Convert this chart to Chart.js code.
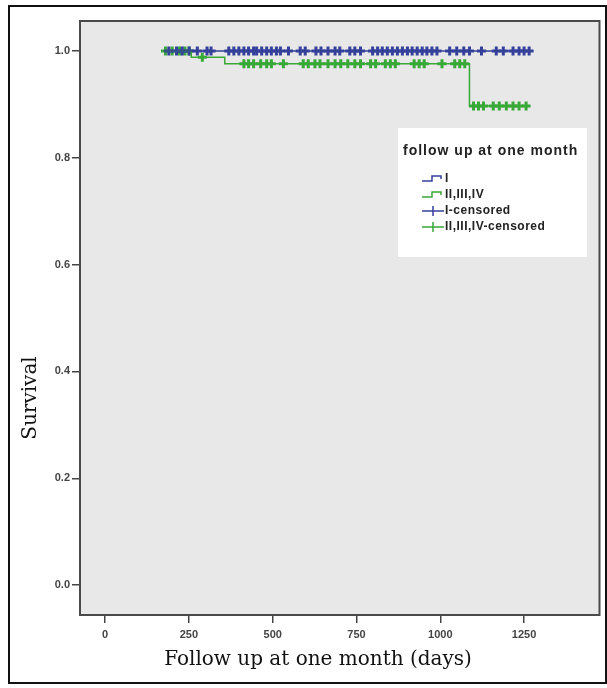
<!DOCTYPE html>
<html>
<head>
<meta charset="utf-8">
<script src="https://cdn.jsdelivr.net/npm/chart.js@4.4.0/dist/chart.umd.min.js"></script>
<style>
html, body { margin: 0; background: #fff; }
</style>
</head>
<body>
<canvas id="km" width="607" height="688"></canvas>
<script>
// Kaplan-Meier step points (days, survival)
const stepTimesI = [175, 1265];
const stepSurvI = [1, 1];
const stepTimesII = [175, 257, 357, 1087, 1256];
const stepSurvII = [1, 0.988, 0.976, 0.897, 0.897];

// censored times
const censorI = [190, 213, 230, 251, 275, 304, 316, 369, 384, 399, 414, 428, 443, 452, 467, 482, 496, 511, 523,
  547, 582, 597, 629, 644, 665, 686, 700, 730, 745, 762, 798, 813, 827, 842, 857, 872, 887, 902, 916, 931,
  946, 960, 975, 990, 1028, 1049, 1070, 1087, 1123, 1167, 1188, 1217, 1235, 1250, 1265];
const censorII = [180, 200, 222, 238, 250, 290, 414, 428, 443, 464, 482, 496, 532, 591, 606, 626, 641, 665, 686,
  703, 724, 745, 762, 792, 807, 836, 851, 866, 922, 937, 952, 1005, 1043, 1058, 1073,
  1099, 1114, 1129, 1158, 1176, 1197, 1217, 1235, 1256];

const xTicks = [0, 250, 500, 750, 1000, 1250];
const yTicks = [0, 0.2, 0.4, 0.6, 0.8, 1.0];
const legendTitle = 'follow up at one month';
const legendLabels = ['I', 'II,III,IV', 'I-censored', 'II,III,IV-censored'];

const blue = '#34409a';
const green = '#38a838';

function survAt(times, surv, t) {
    let s = surv[0];
    for (let i = 0; i < times.length; i++) {
        if (times[i] <= t) s = surv[i];
    }
    return s;
}

function toPoints(times, surv) {
    return times.map((t, i) => ({ x: t, y: surv[i] }));
}

function censorPoints(cens, times, surv) {
    return cens.map(t => ({ x: t, y: survAt(times, surv, t) }));
}

const framePlugin = {
    id: 'frame',
    beforeDraw(chart) {
        const ctx = chart.ctx;
        const a = chart.chartArea;
        ctx.save();
        ctx.fillStyle = '#fff';
        ctx.fillRect(0, 0, chart.width, chart.height);
        ctx.strokeStyle = '#111';
        ctx.lineWidth = 2;
        ctx.strokeRect(9, 6, 597, 677);
        ctx.fillStyle = '#e8e8e8';
        ctx.fillRect(a.left, a.top, a.right - a.left, a.bottom - a.top);
        ctx.restore();
    },
    afterDraw(chart) {
        const ctx = chart.ctx;
        const a = chart.chartArea;
        ctx.save();
        ctx.strokeStyle = '#4a4a4a';
        ctx.lineWidth = 2;
        ctx.strokeRect(a.left, a.top, a.right - a.left, a.bottom - a.top);

        // axis titles
        ctx.fillStyle = '#111';
        ctx.font = '20px "DejaVu Serif"';
        ctx.textAlign = 'center';
        ctx.textBaseline = 'middle';
        ctx.fillText('Follow up at one month (days)', 318, 660);
        ctx.save();
        ctx.translate(31, 398);
        ctx.rotate(-Math.PI / 2);
        ctx.fillText('Survival', 0, 0);
        ctx.restore();

        // legend
        const lx = 398, ly = 128;
        ctx.fillStyle = '#fff';
        ctx.fillRect(lx, ly, 189, 129);
        ctx.fillStyle = '#222';
        ctx.font = 'bold 14px "Liberation Sans"';
        ctx.letterSpacing = '1px';
        ctx.textAlign = 'left';
        ctx.fillText(legendTitle, 403, 151);
        const cols = [blue, green, blue, green];
        ctx.font = 'bold 12px "Liberation Sans"';
        ctx.letterSpacing = '0.5px';
        legendLabels.forEach((lab, i) => {
            const y = 179 + i * 16;
            ctx.strokeStyle = cols[i];
            ctx.lineWidth = 1.5;
            ctx.beginPath();
            if (i < 2) {
                ctx.moveTo(422, y + 2);
                ctx.lineTo(432, y + 2);
                ctx.lineTo(432, y - 3);
                ctx.lineTo(441, y - 3);
                ctx.lineTo(441, y);
            } else {
                ctx.moveTo(422, y);
                ctx.lineTo(444, y);
                ctx.moveTo(433, y - 5);
                ctx.lineTo(433, y + 5);
            }
            ctx.stroke();
            ctx.fillStyle = '#222';
            ctx.fillText(lab, 445, y);
        });
        ctx.restore();
    }
};

const tickFont = { family: 'Liberation Sans', size: 11, weight: 'bold' };

new Chart(document.getElementById('km'), {
    type: 'scatter',
    data: {
        datasets: [
            {
                label: legendLabels[0],
                data: toPoints(stepTimesI, stepSurvI),
                showLine: true,
                stepped: true,
                borderColor: blue,
                borderWidth: 1.5,
                pointRadius: 0
            },
            {
                label: legendLabels[1],
                data: toPoints(stepTimesII, stepSurvII),
                showLine: true,
                stepped: true,
                borderColor: green,
                borderWidth: 1.5,
                pointRadius: 0
            },
            {
                label: legendLabels[2],
                data: censorPoints(censorI, stepTimesI, stepSurvI),
                pointStyle: 'cross',
                pointRadius: 4.5,
                borderWidth: 3,
                borderColor: blue,
                backgroundColor: blue
            },
            {
                label: legendLabels[3],
                data: censorPoints(censorII, stepTimesII, stepSurvII),
                pointStyle: 'cross',
                pointRadius: 4.5,
                borderWidth: 3,
                borderColor: green,
                backgroundColor: green
            }
        ]
    },
    options: {
        responsive: false,
        animation: false,
        layout: { padding: { top: 21, right: 3, left: 0, bottom: 0 } },
        plugins: {
            legend: { display: false },
            tooltip: { enabled: false }
        },
        scales: {
            x: {
                type: 'linear',
                min: -75,
                max: 1475,
                afterBuildTicks: (s) => { s.ticks = xTicks.map(v => ({ value: v })); },
                afterFit: (s) => { s.height = 73; },
                ticks: { color: '#444', font: tickFont, padding: 5, callback: (v) => String(v) },
                grid: { drawOnChartArea: false, tickLength: 8, color: '#444', lineWidth: 1.5 },
                border: { display: false }
            },
            y: {
                min: -0.056,
                max: 1.056,
                afterBuildTicks: (s) => { s.ticks = yTicks.map(v => ({ value: v })); },
                afterFit: (s) => { s.width = 80; },
                ticks: { color: '#444', font: tickFont, padding: 2, callback: (v) => v.toFixed(1) },
                grid: { drawOnChartArea: false, tickLength: 8, color: '#444', lineWidth: 1.5 },
                border: { display: false }
            }
        }
    },
    plugins: [framePlugin]
});
</script>
</body>
</html>
